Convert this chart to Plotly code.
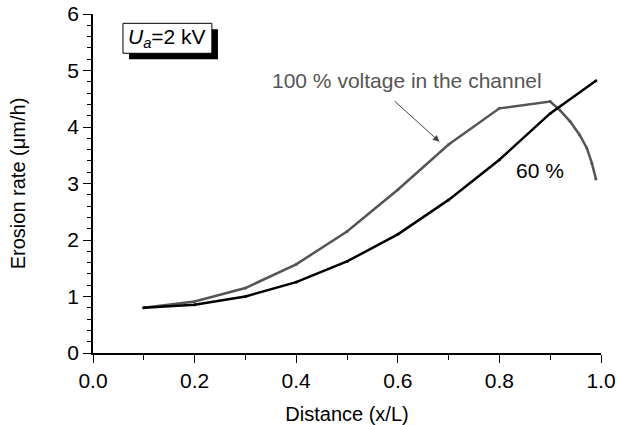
import plotly.graph_objects as go

# Data
x_60 = [0.1, 0.2, 0.3, 0.4, 0.5, 0.6, 0.7, 0.8, 0.9, 0.99]
y_60 = [0.80, 0.855, 1.00, 1.255, 1.62, 2.10, 2.71, 3.42, 4.24, 4.82]

x_100 = [0.1, 0.2, 0.3, 0.4, 0.5, 0.6, 0.7, 0.8, 0.9, 0.919, 0.939, 0.958, 0.972, 0.982, 0.99]
y_100 = [0.80, 0.91, 1.15, 1.57, 2.15, 2.89, 3.69, 4.33, 4.45, 4.30, 4.10, 3.86, 3.63, 3.36, 3.08]

x_ticks = [0.0, 0.2, 0.4, 0.6, 0.8, 1.0]
x_ticklabels = ["0.0", "0.2", "0.4", "0.6", "0.8", "1.0"]
y_ticks = [0, 1, 2, 3, 4, 5, 6]

FONT = "Liberation Sans, Arial, Helvetica, sans-serif"
FS = 21

fig = go.Figure()
fig.add_trace(go.Scatter(x=x_100, y=y_100, mode="lines+markers",
                         line=dict(color="#555555", width=2.5),
                         marker=dict(size=3, color="#555555"),
                         showlegend=False))
fig.add_trace(go.Scatter(x=x_60, y=y_60, mode="lines+markers",
                         line=dict(color="black", width=2.5),
                         marker=dict(size=3, color="black"),
                         showlegend=False))

axis_common = dict(showline=True, linecolor="black", linewidth=1.5,
                   ticks="outside", ticklen=8, tickwidth=1.2, tickcolor="black",
                   showgrid=False, zeroline=False, automargin=False,
                   tickfont=dict(family=FONT, size=FS, color="black"))

fig.update_xaxes(range=[0, 1], tickvals=x_ticks, ticktext=x_ticklabels,
                 title=dict(text="Distance (x/L)", font=dict(family=FONT, size=FS - 1, color="black"), standoff=18),
                 minor=dict(ticks="outside", ticklen=5, dtick=0.1, tickcolor="black", tickwidth=1.2),
                 **axis_common)
fig.update_yaxes(range=[0, 6], tickvals=y_ticks,
                 title=dict(text="Erosion rate (μm/h)", font=dict(family=FONT, size=FS - 1, color="black"), standoff=36),
                 minor=dict(ticks="outside", ticklen=4, dtick=0.2, tickcolor="black", tickwidth=1.2),
                 **axis_common)

# Ua box with shadow
fig.add_shape(type="rect", xref="x", yref="y", x0=0.071, x1=0.246, y0=5.20, y1=5.73,
              fillcolor="black", line=dict(width=0), layer="above")
fig.add_shape(type="rect", xref="x", yref="y", x0=0.059, x1=0.234, y0=5.305, y1=5.835,
              fillcolor="white", line=dict(color="black", width=1), layer="above")
fig.add_annotation(x=0.1465, y=5.57, xref="x", yref="y",
                   text="<i>U</i><sub><i>a</i></sub>=2 kV", showarrow=False,
                   font=dict(family=FONT, size=FS, color="black"))

fig.add_annotation(x=0.618, y=4.815, xref="x", yref="y",
                   text="100 % voltage in the channel", showarrow=False,
                   font=dict(family=FONT, size=FS, color="#555555"))
fig.add_annotation(x=0.682, y=3.74, ax=0.591, ay=4.48, xref="x", yref="y",
                   axref="x", ayref="y", text="", showarrow=True,
                   arrowhead=2, arrowsize=1.3, arrowwidth=1, arrowcolor="#444444")
fig.add_annotation(x=0.879, y=3.23, xref="x", yref="y",
                   text="60 %", showarrow=False,
                   font=dict(family=FONT, size=FS, color="black"))

fig.update_layout(width=617, height=425,
                  margin=dict(l=93, r=16, t=14, b=72, autoexpand=False),
                  paper_bgcolor="white", plot_bgcolor="white",
                  font=dict(family=FONT))

fig.write_html("out.html")
